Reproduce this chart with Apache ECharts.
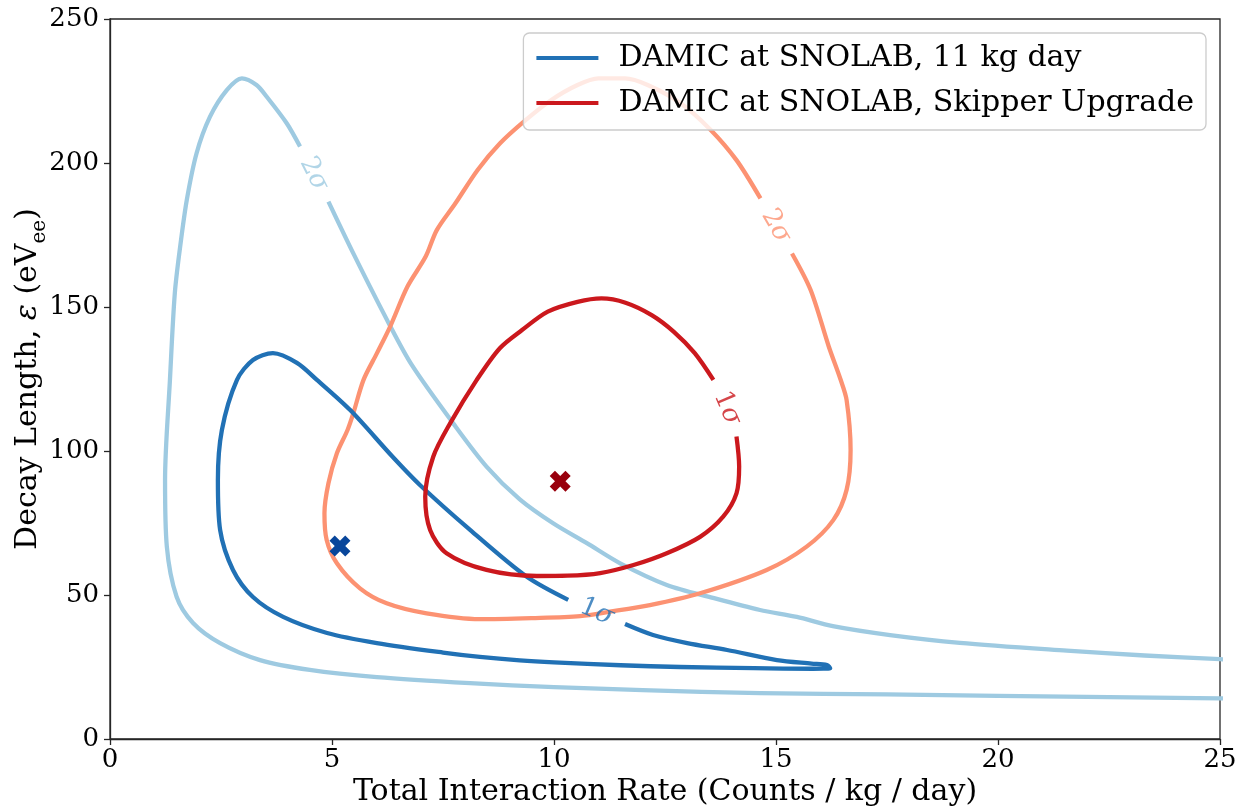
<!DOCTYPE html>
<html>
<head>
<meta charset="utf-8">
<script src="https://cdn.jsdelivr.net/npm/echarts@6/dist/echarts.min.js"></script>
<style>
  html, body { margin: 0; padding: 0; background: #fff; }
  #chart { width: 1241px; height: 812px; }
</style>
</head>
<body>
<div id="chart"></div>
<script>
// Confidence contours in (interaction rate, decay length) space.
// Each contour is stored as an open path that starts and ends at the gap
// left for its inline label.

// 11 kg day exposure, 1 sigma
const current1Sigma = [
  [11.6, 39.9], [12.23, 36.1], [13.0, 33.3], [13.9, 30.9], [15.02, 27.4], [15.8, 26.2],
  [16.15, 25.7], [16.22, 24.6], [15.83, 24.4], [14.5, 24.6], [12.84, 25.0], [11.5, 25.6],
  [10.0, 26.6], [9.23, 27.3], [8.33, 28.5], [7.5, 30.0], [6.01, 33.3], [4.89, 36.8],
  [3.90, 42.4], [3.22, 49.3], [2.77, 58.7], [2.48, 72.6], [2.43, 89.9], [2.52, 107.3],
  [2.86, 124.7], [3.22, 131.6], [3.67, 134.0], [4.21, 130.6], [4.66, 124.7], [5.41, 114.2],
  [6.37, 97.9], [6.98, 88.2], [8.11, 72.6], [9.38, 56.4], [10.32, 48.3]
];

// 11 kg day exposure, 2 sigma (runs off the right edge, split at its label)
const current2SigmaLower = [
  [25.5, 14.0], [25, 14.1], [20, 15.0], [17.5, 15.5], [14.64, 15.9], [12, 17.0], [10, 18.0],
  [8.11, 19.4], [6.01, 21.5], [4.5, 24.0], [3.38, 27.4], [2.48, 33.3], [1.87, 40.3],
  [1.50, 49.4], [1.28, 66.8], [1.24, 89.9], [1.35, 124.7], [1.46, 154.8], [1.58, 170.9],
  [1.73, 187.2], [1.95, 203.4], [2.25, 216.0], [2.63, 225.3], [2.97, 229.4], [3.30, 227.1],
  [3.53, 223.0], [3.98, 213.8], [4.28, 205.7]
];
const current2SigmaUpper = [
  [4.92, 186.6], [5.5, 168.0], [6.28, 144.3], [6.80, 129.8], [7.73, 109.6],
  [8.48, 94.6], [9.23, 83.2], [9.98, 74.9], [10.74, 68.0], [11.49, 61.0], [12.54, 53.5],
  [13.58, 49.0], [14.64, 44.8], [15.47, 42.4], [16.28, 39.2], [17.57, 36.1], [19.14, 33.4],
  [21.55, 30.7], [23.3, 29.0], [25, 27.7], [25.5, 27.4]
];

// Skipper upgrade, 1 sigma
const skipper1Sigma = [
  [14.11, 105.0], [14.17, 94.6], [14.11, 85.3], [13.81, 77.2], [13.29, 70.2], [12.54, 64.5],
  [11.79, 60.4], [11.04, 57.6], [10.3, 56.7], [9.61, 56.6], [8.48, 58.7], [7.58, 64.5],
  [7.21, 72.6], [7.10, 84.1], [7.28, 98.0], [7.66, 109.6], [8.26, 124.7], [8.78, 135.7],
  [9.28, 142.0], [9.86, 148.4], [10.53, 151.8], [11.07, 153.0], [11.61, 151.5], [12.20, 147.2],
  [12.70, 141.4], [13.17, 134.0], [13.59, 124.7]
];

// Skipper upgrade, 2 sigma
const skipper2Sigma = [
  [15.36, 168.6], [15.78, 155.9], [16.19, 136.2], [16.45, 125.0], [16.59, 117.7], [16.68, 100.3],
  [16.59, 86.5], [16.29, 76.0], [15.69, 66.8], [14.79, 58.7], [13.29, 50.6], [12.16, 46.5],
  [11.26, 44.2], [10.59, 42.7], [9.5, 42.0], [8.33, 41.6], [7.13, 43.6], [6.23, 47.1],
  [5.63, 52.3], [5.11, 61.0], [4.88, 69.1], [4.83, 78.4], [4.92, 88.8], [5.11, 99.2],
  [5.35, 107.3], [5.48, 113.1], [5.71, 124.7], [6.01, 133.9], [6.31, 143.2], [6.70, 157.1],
  [7.11, 167.5], [7.36, 176.7], [7.78, 186.0], [8.28, 197.6], [8.78, 206.8], [9.36, 214.9],
  [9.94, 221.9], [10.53, 227.1], [11.0, 229.4], [11.6, 229.4], [12.11, 227.1], [12.86, 220.7],
  [13.53, 211.5], [14.11, 201.0], [14.65, 187.7]
];

// Best-fit points
const currentBestFit = [[5.18, 67.0]];
const skipperBestFit = [[10.14, 89.5]];

// Inline contour labels: [x, y, text, rotation in degrees]
const currentLabels = [[4.59, 196.2, '2', -63], [10.96, 44.1, '1', -23]];
const skipperLabels = [[15.0, 178.1, '2', -60], [13.9, 114.9, '1', -67]];

const xTicks = { min: 0, max: 25, step: 5 };
const yTicks = { min: 0, max: 250, step: 50 };

const legendNames = ['DAMIC at SNOLAB, 11 kg day', 'DAMIC at SNOLAB, Skipper Upgrade'];

const FONT = 'DejaVu Serif';
const C = {
  blue: '#2171b5', lightBlue: '#9ecae1', red: '#cb181d', salmon: '#fc9272',
  blueMark: '#08469b', redMark: '#99000d', axis: '#262626'
};
const X_MARK = 'path://M-1,-0.5 L-0.5,-1 L0,-0.5 L0.5,-1 L1,-0.5 L0.5,0 L1,0.5 L0.5,1 L0,0.5 L-0.5,1 L-1,0.5 L-0.5,0 Z';

function contour(name, data, color, z) {
  return {
    name: name, type: 'line', data: data, showSymbol: false, symbol: 'none',
    smooth: 0.3, clip: true, silent: true, z: z,
    lineStyle: { color: color, width: 4.3, cap: 'butt', join: 'round' },
    itemStyle: { color: color }
  };
}

function labelSeries(labels, color) {
  return {
    type: 'scatter', silent: true, symbolSize: 0, z: 6,
    data: labels.map(l => ({ value: [l[0], l[1]], txt: l[2], label: { rotate: l[3] } })),
    label: {
      show: true, position: 'inside', color: color,
      formatter: p => '{n|' + p.data.txt + '}{s|σ}',
      rich: {
        n: { fontFamily: FONT, fontSize: 26, color: color },
        s: { fontFamily: FONT, fontSize: 26, fontStyle: 'italic', color: color }
      }
    }
  };
}

function bestFit(data, color) {
  return {
    type: 'scatter', data: data, silent: true, z: 5, symbol: X_MARK, symbolSize: 21,
    itemStyle: { color: color, opacity: 1 }
  };
}

const chart = echarts.init(document.getElementById('chart'), null, { renderer: 'canvas' });

chart.setOption({
  animation: false,
  backgroundColor: '#fff',
  grid: { left: 110, right: 21, top: 19, bottom: 73, show: true, outerBoundsMode: 'none',
    containLabel: false, borderColor: C.axis, borderWidth: 1.3, backgroundColor: 'transparent' },
  xAxis: {
    type: 'value', min: xTicks.min, max: xTicks.max, interval: xTicks.step,
    name: 'Total Interaction Rate (Counts / kg / day)',
    nameLocation: 'middle', nameGap: 38, nameMoveOverlap: false,
    nameTextStyle: { fontFamily: FONT, fontSize: 30, color: '#000' },
    axisLine: { show: true, onZero: false, lineStyle: { color: C.axis, width: 1.3 } },
    axisTick: { show: true, length: 6, lineStyle: { color: C.axis, width: 1.3 } },
    axisLabel: { fontFamily: FONT, fontSize: 26, color: '#000', margin: 8 },
    splitLine: { show: false }
  },
  yAxis: {
    type: 'value', min: yTicks.min, max: yTicks.max, interval: yTicks.step,
    name: '{n|Decay Length, }{i|ε}{n| (eV}{s|ee}{n|)}',
    nameLocation: 'middle', nameGap: 60, nameRotate: 90, nameMoveOverlap: false,
    nameTextStyle: {
      fontFamily: FONT, fontSize: 30, color: '#000',
      rich: {
        n: { fontFamily: FONT, fontSize: 30, color: '#000', verticalAlign: 'bottom', padding: [0, 0, 7, 0] },
        i: { fontFamily: FONT, fontSize: 30, fontStyle: 'italic', color: '#000', verticalAlign: 'bottom', padding: [0, 0, 7, 0] },
        s: { fontFamily: FONT, fontSize: 20, color: '#000', verticalAlign: 'bottom' }
      }
    },
    axisLine: { show: true, onZero: false, lineStyle: { color: C.axis, width: 1.3 } },
    axisTick: { show: true, length: 6, lineStyle: { color: C.axis, width: 1.3 } },
    axisLabel: { fontFamily: FONT, fontSize: 26, color: '#000', margin: 11 },
    splitLine: { show: false }
  },
  legend: {
    data: legendNames, orient: 'vertical', right: 35, top: 33,
    icon: 'rect', itemWidth: 62, itemHeight: 4, itemGap: 13,
    padding: [9, 12, 11, 13],
    backgroundColor: 'rgba(255,255,255,0.8)', borderColor: '#cccccc', borderWidth: 1.3, borderRadius: 6,
    textStyle: { fontFamily: FONT, fontSize: 30, color: '#000', lineHeight: 32, padding: [0, 0, 0, 15] },
    selectedMode: false
  },
  series: [
    contour('current2SigmaLower', current2SigmaLower, C.lightBlue, 2),
    contour('current2SigmaUpper', current2SigmaUpper, C.lightBlue, 2),
    contour('skipper2Sigma', skipper2Sigma, C.salmon, 2),
    contour(legendNames[0], current1Sigma, C.blue, 3),
    contour(legendNames[1], skipper1Sigma, C.red, 3),
    bestFit(currentBestFit, C.blueMark),
    bestFit(skipperBestFit, C.redMark),
    labelSeries(currentLabels.slice(0, 1), C.lightBlue),
    labelSeries(currentLabels.slice(1), C.blue),
    labelSeries(skipperLabels.slice(0, 1), C.salmon),
    labelSeries(skipperLabels.slice(1), C.red)
  ]
});
</script>
</body>
</html>
